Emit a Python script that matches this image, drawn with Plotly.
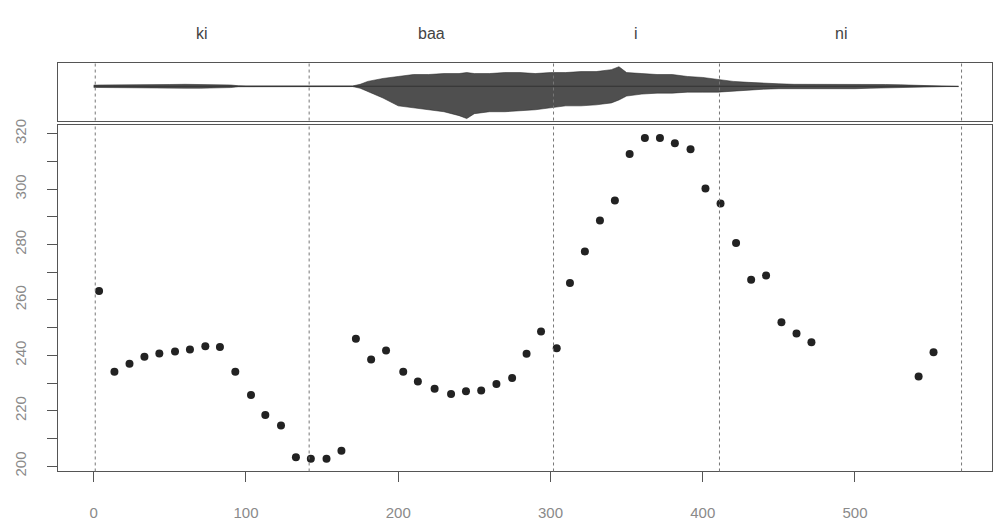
import plotly.graph_objects as go

# ---------------- data ----------------
# F0 track (time in ms, F0 in Hz)
time_ms = [3.5, 13.6, 23.5, 33.3, 43.1, 53.4, 63.2, 73.3, 82.9, 93.0,
           103.3, 112.7, 123.0, 132.8, 142.6, 152.9, 162.7, 172.2, 182.2, 192.0,
           203.3, 212.9, 223.9, 234.7, 244.5, 254.5, 264.5, 274.8, 284.3, 293.8,
           304.1, 312.8, 322.6, 332.5, 342.3, 352.0, 362.0, 371.9, 381.7, 392.0,
           401.8, 411.7, 421.9, 431.8, 441.6, 451.7, 461.6, 471.4, 541.8, 551.6]
f0_hz = [263.2, 234.1, 237.0, 239.5, 240.7, 241.4, 242.1, 243.3, 243.0, 234.1,
         225.7, 218.5, 214.7, 203.2, 202.7, 202.7, 205.6, 246.0, 238.5, 241.8,
         234.1, 230.6, 228.0, 226.1, 227.1, 227.3, 229.7, 231.8, 240.6, 248.6,
         242.6, 266.1, 277.5, 288.7, 295.9, 312.7, 318.5, 318.5, 316.6, 314.4,
         300.2, 294.8, 280.6, 267.3, 268.8, 252.0, 247.9, 244.7, 232.4, 241.1]

# syllable segmentation
boundaries_ms = [1, 141.5, 302, 411, 570]
syllables = ["ki", "baa", "i", "ni"]

# waveform envelope (arbitrary amplitude units)
env_t = [0, 10, 20, 30, 40, 50, 60, 70, 80, 90, 95, 100, 170, 175, 180, 190,
         200, 210, 220, 230, 240, 245, 250, 260, 270, 280, 290, 300, 310, 320,
         330, 340, 345, 350, 360, 370, 380, 390, 400, 410, 420, 430, 440, 450,
         460, 470, 480, 490, 500, 510, 520, 530, 540, 550, 560, 568]
env_up = [1.2, 1.2, 1.3, 1.5, 1.6, 1.8, 2, 2, 1.8, 1.3, 0.5, 0.3, 0.3, 2, 5, 8,
          10, 12, 12, 13, 13, 14, 13, 13, 14, 14, 13, 14, 14, 15,
          15, 17, 20, 14, 13, 12, 12, 10, 9, 7, 5, 4, 3, 2.5,
          2, 2, 2, 2.5, 2.5, 2, 1.8, 1.5, 1, 0.5, 0.3, 0.3]
env_lo = [-1.2, -1.2, -1.3, -1.5, -1.6, -1.8, -2, -2, -1.8, -1.3, -0.5, -0.3, -0.3, -2, -5, -12,
          -20, -22, -24, -26, -30, -33, -28, -26, -26, -25, -24, -22, -20, -20,
          -19, -17, -14, -10, -8, -7, -7, -6, -6, -6, -5, -4, -3, -2.5,
          -2, -2, -2, -2.5, -2.5, -2, -1.8, -1.5, -1, -0.5, -0.3, -0.3]

x_ticks = [0, 100, 200, 300, 400, 500]
y_ticks = [200, 210, 220, 230, 240, 250, 260, 270, 280, 290, 300, 310, 320]
y_ticklabels = ["200", "", "220", "", "240", "", "260", "", "280", "", "300", "", "320"]

# ---------------- figure ----------------
W, H = 993, 522
def py(p):
    return 1 - p / H

X_RANGE = [-23.5, 590]
bottom_dom = [py(475.5), py(122)]
top_dom = [py(117), py(58)]
x_dom = [58 / W, 1.0]

fig = go.Figure()

# waveform envelope polygon
poly_x = list(env_t) + list(reversed(env_t))
poly_y = list(env_up) + list(reversed(env_lo))
fig.add_trace(go.Scatter(x=poly_x, y=poly_y, mode="lines", fill="toself",
                         fillcolor="rgba(55,55,55,0.88)",
                         line=dict(color="rgba(40,40,40,0.9)", width=0.6),
                         xaxis="x2", yaxis="y2", hoverinfo="skip", showlegend=False))
fig.add_trace(go.Scatter(x=[env_t[0], env_t[-1]], y=[0, 0], mode="lines",
                         line=dict(color="#333", width=1),
                         xaxis="x2", yaxis="y2", hoverinfo="skip", showlegend=False))

# F0 points
fig.add_trace(go.Scatter(x=time_ms, y=f0_hz, mode="markers",
                         marker=dict(color="#222", size=8),
                         xaxis="x", yaxis="y", showlegend=False))

axis_line = "#555"
tick_font = dict(family="Liberation Sans, Arial, sans-serif", size=15, color="#8a8a8a")

fig.update_layout(
    width=W, height=H,
    margin=dict(l=0, r=0, t=0, b=0),
    paper_bgcolor="white", plot_bgcolor="white",
    showlegend=False,
    xaxis=dict(domain=x_dom, range=X_RANGE, anchor="y",
               tickmode="array", tickvals=x_ticks,
               ticks="outside", ticklen=10, tickcolor=axis_line, tickwidth=1,
               showline=True, linecolor=axis_line, linewidth=1, mirror=True,
               showgrid=False, zeroline=False, tickfont=tick_font,
               ticklabelstandoff=18),
    yaxis=dict(domain=bottom_dom, range=[198.1, 323.0], anchor="x",
               tickmode="array", tickvals=y_ticks, ticktext=y_ticklabels,
               ticks="outside", ticklen=10, tickcolor=axis_line, tickwidth=1,
               tickangle=-90,
               showline=True, linecolor=axis_line, linewidth=1, mirror=True,
               showgrid=False, zeroline=False, tickfont=tick_font,
               ticklabelstandoff=15),
    xaxis2=dict(domain=x_dom, range=X_RANGE, anchor="y2",
                showticklabels=False, ticks="",
                showline=True, linecolor=axis_line, linewidth=1, mirror=True,
                showgrid=False, zeroline=False),
    yaxis2=dict(domain=top_dom, range=[-35, 24], anchor="x2",
                showticklabels=False, ticks="",
                showline=True, linecolor=axis_line, linewidth=1, mirror=True,
                showgrid=False, zeroline=False),
)

# segment boundaries (dotted vertical lines in both panels)
for b in boundaries_ms:
    for dom in (bottom_dom, top_dom):
        fig.add_shape(type="line", xref="x", yref="paper", x0=b, x1=b,
                      y0=dom[0], y1=dom[1],
                      line=dict(color="#777", width=1, dash="dot"))

# syllable labels centered in each segment
for i, s in enumerate(syllables):
    mid = (boundaries_ms[i] + boundaries_ms[i + 1]) / 2
    fig.add_annotation(x=mid, xref="x", y=py(28), yref="paper", text=s,
                       showarrow=False, yanchor="middle",
                       font=dict(family="Liberation Sans, Arial, sans-serif",
                                 size=16, color="#444"))

fig.write_html("out.html")
